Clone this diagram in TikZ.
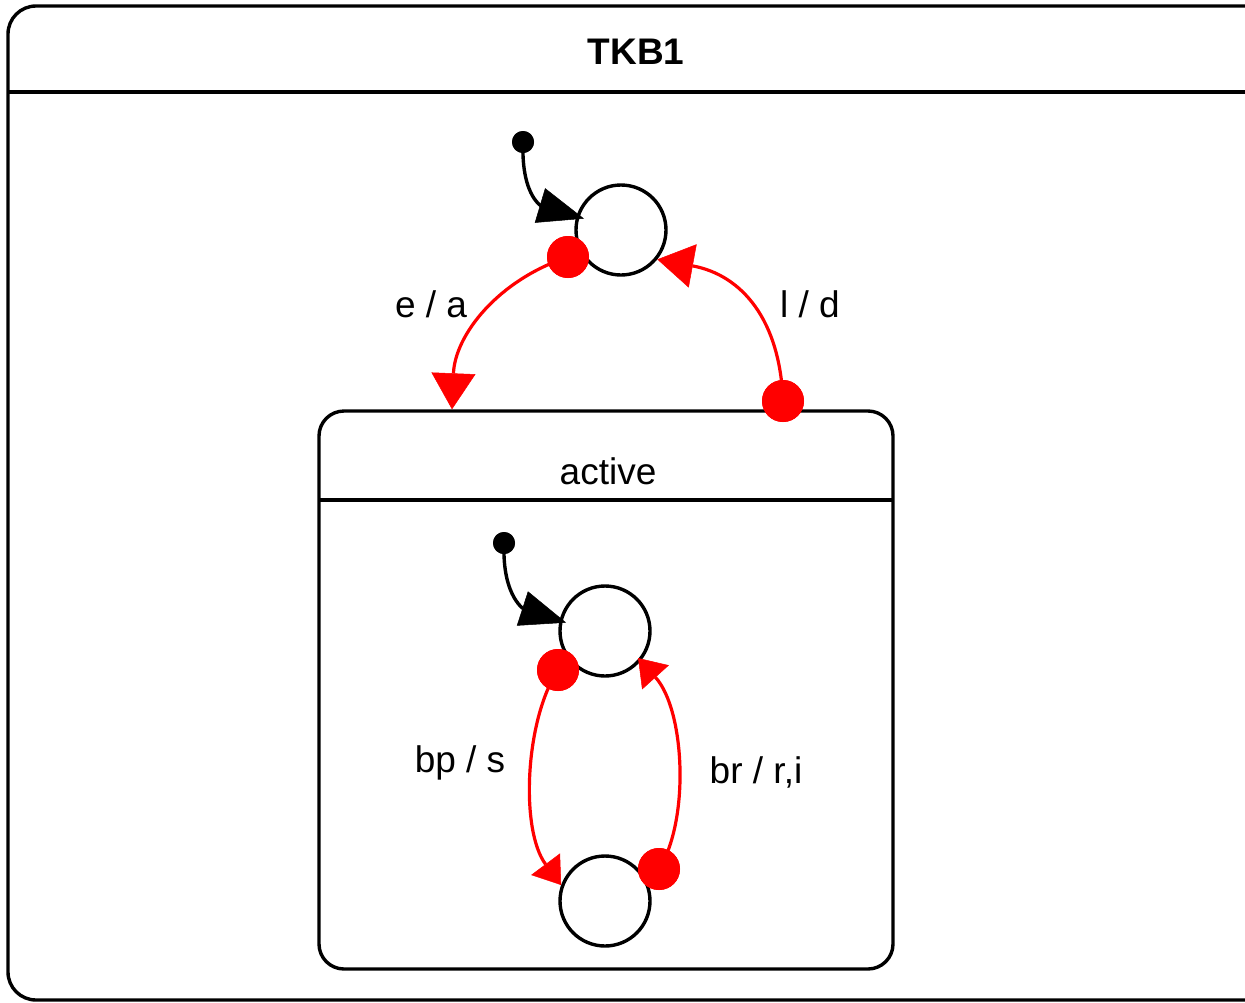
\documentclass[tikz,border=0pt]{standalone}
\usepackage{fontspec}
\setmainfont{Liberation Sans}
\usetikzlibrary{arrows.meta}
\begin{document}
\begin{tikzpicture}[x=1pt,y=-1pt,
  lbl/.style={font=\fontsize{37}{44}\selectfont, anchor=base, inner sep=0pt},
  boxline/.style={line width=3.4pt},
  state/.style={circle, draw, line width=3.4pt, fill=white, minimum size=90pt, inner sep=0pt},
  initdot/.style={circle, fill=black, minimum size=22pt, inner sep=0pt},
  srcdot/.style={circle, fill=red, minimum size=42pt, inner sep=0pt},
  initarrow/.style={line width=3.4pt, -{Triangle[length=46pt,width=36pt,line width=0.5pt]}},
  trans/.style={red, line width=3.2pt, -{Triangle[length=36pt,width=44pt,line width=0.5pt]}},
  itrans/.style={red, line width=3.2pt, -{Triangle[length=26pt,width=36pt,line width=0.5pt]}}]
\useasboundingbox (0,0) rectangle (1245,1002);
\clip (0,0) rectangle (1245,1002);
% outer state
\draw[boxline, rounded corners=28pt] (8,6) rectangle (1290,1000);
\draw[boxline] (8,92) -- (1245,92);
\node[lbl, font={\fontsize{37}{44}\selectfont\bfseries}] (title) at (636,64) {TKB1};
% composite state
\node[draw, boxline, rounded corners=25pt, minimum width=574pt, minimum height=558pt, inner sep=0pt] (active) at (606,690) {};
\draw[boxline] (319,500) -- (893,500);
\node[lbl] (activelbl) at (608,484) {active};
% simple states
\node[state] (s1) at (621,230) {};
\node[state] (s2) at (605,631) {};
\node[state] (s3) at (605,901) {};
% initial pseudostates
\node[initdot] (i1) at (523,142) {};
\node[initdot] (i2) at (504,543) {};
% source dots
\node[srcdot] (d1) at (568,257) {};
\node[srcdot] (d2) at (783,401) {};
\node[srcdot] (d3) at (558,670) {};
\node[srcdot] (d4) at (659,869) {};
% connectors
\draw[initarrow, shorten >=-8pt] (i1.center) .. controls (521,200) and (545,207) .. (s1.163);
\draw[initarrow, shorten >=-7pt] (i2.center) .. controls (502,600) and (527,610) .. (s2.167);
\draw[trans] (d1.center) .. controls (498,280) and (455,335) .. ([xshift=-154pt]active.north);
\draw[trans] (d2.center) .. controls (780,320) and (742,275) .. (s1.321);
\draw[itrans] (d3.center) .. controls (525,720) and (520,830) .. (s3.160);
\draw[itrans, shorten >=-4pt] (d4.center) .. controls (690,820) and (685,710) .. (s2.320);
% redraw dots on top
\fill[red] (d1) circle (21pt);
\fill[red] (d2) circle (21pt);
\fill[red] (d3) circle (21pt);
\fill[red] (d4) circle (21pt);
\fill (i1) circle (11pt);
\fill (i2) circle (11pt);
% labels
\node[lbl] (la) at (431,317) {e / a};
\node[lbl] (lb) at (810,317) {l / d};
\node[lbl] (lc) at (460,772) {bp / s};
\node[lbl] (ld) at (756,783) {br / r,i};
\end{tikzpicture}
\end{document}
